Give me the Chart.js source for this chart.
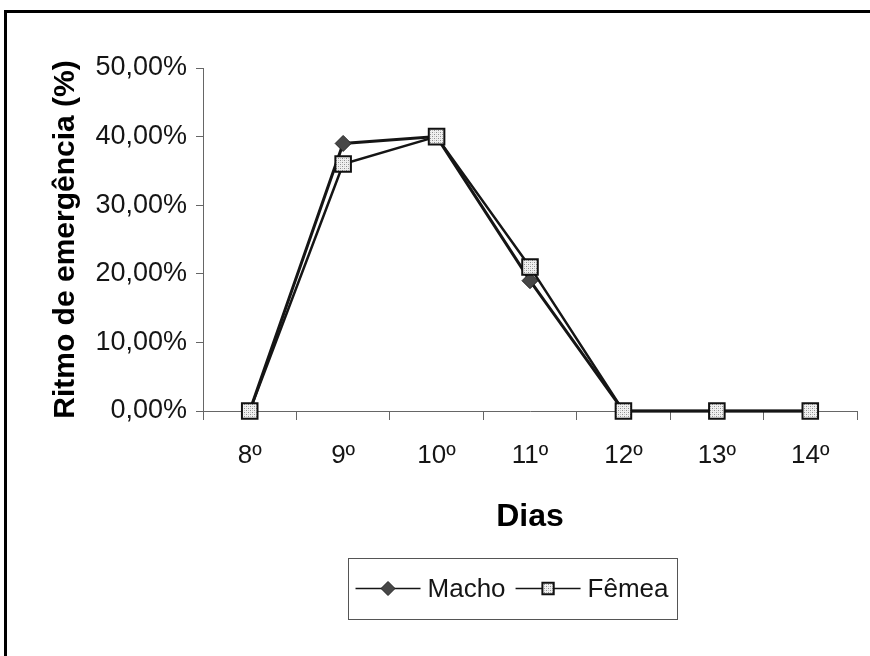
<!DOCTYPE html>
<html>
<head>
<meta charset="utf-8">
<script src="https://cdn.jsdelivr.net/npm/chart.js@4.4.1/dist/chart.umd.min.js"></script>
<style>
  html, body { margin: 0; padding: 0; background: #fff; }
  #wrap { position: relative; width: 870px; height: 656px; overflow: hidden; }
  #frame { position: absolute; left: 4px; top: 10px; width: 900px; height: 700px;
           border-left: 3px solid #000; border-top: 3px solid #000; }
  #c { position: absolute; left: 0; top: 0; }
</style>
</head>
<body>
<div id="wrap">
  <div id="frame"></div>
  <canvas id="c" width="870" height="656"></canvas>
</div>
<script>
// Emergence rhythm by day, in percent
const dias  = ['8º', '9º', '10º', '11º', '12º', '13º', '14º'];
const macho = [0, 39, 40, 19, 0, 0, 0];
const femea = [0, 36, 40, 21, 0, 0, 0];
const yTicks = [0, 10, 20, 30, 40, 50];

const FONT = "'Liberation Sans', Arial, Helvetica, sans-serif";
const INK = '#151515';

// light stippled fill used inside the square markers
function stipple() {
  const p = document.createElement('canvas');
  p.width = 4; p.height = 4;
  const g = p.getContext('2d');
  g.fillStyle = '#f0f0f0'; g.fillRect(0, 0, 4, 4);
  g.fillStyle = '#8e8e8e'; g.fillRect(0, 0, 1, 1); g.fillRect(2, 2, 1, 1);
  g.fillStyle = '#c4c4c4'; g.fillRect(2, 0, 1, 1); g.fillRect(0, 2, 1, 1);
  return g.createPattern(p, 'repeat');
}
const dots = stipple();

const fmtPct = v => v.toFixed(2).replace('.', ',') + '%';

// boxed legend: each entry is a short line with the series marker on it
const boxedLegend = {
  id: 'boxedLegend',
  afterDraw(chart, args, opts) {
    const ctx = chart.ctx;
    const ds = chart.data.datasets;
    ctx.save();
    ctx.font = opts.fontSize + 'px ' + FONT;
    const items = ds.map(d => ({ d, w: ctx.measureText(d.label).width }));
    let content = 0;
    items.forEach((it, i) => {
      content += opts.lineLen + opts.textGap + it.w + (i < items.length - 1 ? opts.itemGap : 0);
    });
    const boxW = content + 2 * opts.padX;
    const left = opts.centerX - boxW / 2;
    const top = opts.top;
    const h = opts.height;
    const cy = top + h / 2;

    ctx.strokeStyle = '#555';
    ctx.lineWidth = 1;
    ctx.strokeRect(Math.round(left) + 0.5, Math.round(top) + 0.5, Math.round(boxW), Math.round(h));

    let x = left + opts.padX;
    items.forEach(it => {
      const d = it.d;
      ctx.strokeStyle = d.borderColor;
      ctx.lineWidth = 1.5;
      ctx.beginPath();
      ctx.moveTo(x, cy); ctx.lineTo(x + opts.lineLen, cy);
      ctx.stroke();
      ctx.fillStyle = d.pointBackgroundColor;
      ctx.strokeStyle = d.pointBorderColor;
      ctx.lineWidth = d.pointBorderWidth;
      Chart.helpers.drawPoint(ctx, { pointStyle: d.pointStyle, radius: d.legendRadius, rotation: 0, borderWidth: d.pointBorderWidth },
        x + opts.lineLen / 2, cy);
      x += opts.lineLen + opts.textGap;
      ctx.fillStyle = INK;
      ctx.textBaseline = 'middle';
      ctx.textAlign = 'left';
      ctx.fillText(d.label, x, cy + 1);
      x += it.w + opts.itemGap;
    });
    ctx.restore();
  }
};

new Chart(document.getElementById('c'), {
  type: 'line',
  data: {
    labels: dias,
    datasets: [
      {
        label: 'Macho',
        data: macho,
        order: 1,
        borderColor: INK,
        borderWidth: 3,
        pointStyle: 'rectRot',
        pointRadius: 8,
        legendRadius: 7,
        pointBackgroundColor: '#474747',
        pointBorderColor: '#222',
        pointBorderWidth: 1,
        tension: 0,
        clip: false
      },
      {
        label: 'Fêmea',
        data: femea,
        order: 0,
        borderColor: INK,
        borderWidth: 2.5,
        pointStyle: 'rect',
        pointRadius: 11,
        legendRadius: 8,
        pointBackgroundColor: dots,
        pointBorderColor: '#111',
        pointBorderWidth: 2,
        tension: 0,
        clip: false
      }
    ]
  },
  options: {
    responsive: false,
    animation: false,
    devicePixelRatio: 1,
    layout: { padding: { top: 68, right: 10, bottom: 0, left: 0 } },
    plugins: {
      legend: { display: false },
      tooltip: { enabled: false },
      boxedLegend: {
        centerX: 512, top: 558, height: 61, fontSize: 26,
        lineLen: 65, textGap: 7, itemGap: 10, padX: 8
      }
    },
    scales: {
      x: {
        type: 'category',
        offset: true,
        afterFit: s => { s.height = 245; },
        grid: { offset: true, drawOnChartArea: false, drawTicks: true, tickLength: 9, color: '#666', lineWidth: 1 },
        border: { display: true, color: '#666', width: 1 },
        ticks: { font: { family: FONT, size: 26 }, color: INK, padding: 20, maxRotation: 0 },
        title: {
          display: true, text: 'Dias', color: '#000',
          font: { family: FONT, size: 32, weight: 'bold' },
          padding: { top: 0, bottom: 120 }
        }
      },
      y: {
        min: 0, max: 50,
        afterFit: s => { s.width = 203; },
        afterBuildTicks: s => { s.ticks = yTicks.map(v => ({ value: v })); },
        grid: { drawOnChartArea: false, drawTicks: true, tickLength: 7, color: '#666', lineWidth: 1 },
        border: { display: true, color: '#666', width: 1 },
        ticks: { font: { family: FONT, size: 27 }, color: INK, padding: 9, callback: v => fmtPct(v) },
        title: {
          display: true, text: 'Ritmo de emergência (%)', color: '#000',
          font: { family: FONT, size: 30, weight: 'bold' },
          padding: { top: 48, bottom: 0 }
        }
      }
    }
  },
  plugins: [boxedLegend]
});
</script>
</body>
</html>
